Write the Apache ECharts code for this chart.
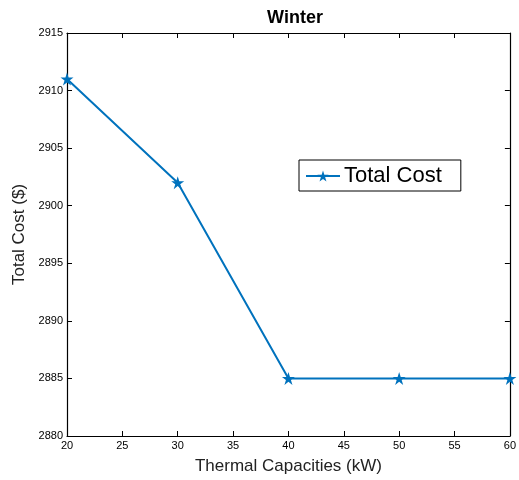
<!DOCTYPE html>
<html>
<head>
<meta charset="utf-8">
<script src="https://cdn.jsdelivr.net/npm/echarts@6/dist/echarts.min.js"></script>
<style>
  html, body { margin: 0; padding: 0; background: #fff; }
  #chart { width: 519px; height: 480px; }
</style>
</head>
<body>
<div id="chart"></div>
<script>
// Thermal capacity (kW) against total cost ($) for the winter case
const capacities = [20, 30, 40, 50, 60];
const totalCost = [2911, 2902, 2885, 2885, 2885];
const seriesName = 'Total Cost';
const titleText = 'Winter';
const xLabel = 'Thermal Capacities (kW)';
const yLabel = 'Total Cost ($)';

const FONT = 'Liberation Sans, Arial, sans-serif';
const BLUE = '#0072BD';
const STAR = 'path://M50,0 L61.8,36.2 L100,36.2 L69.1,58.6 L80.9,95.1 L50,72.6 L19.1,95.1 L30.9,58.6 L0,36.2 L38.2,36.2 Z';

const chart = echarts.init(document.getElementById('chart'));

const boxAxisCommon = {
  axisLine: { show: true, onZero: false, lineStyle: { color: '#000', width: 1.2 } },
  axisTick: { show: true, inside: true, length: 5, lineStyle: { color: '#000' } },
  splitLine: { show: false }
};

chart.setOption({
  backgroundColor: '#fff',
  animation: false,
  title: {
    text: titleText,
    left: 290,
    top: 4,
    textAlign: 'center',
    textStyle: { fontFamily: FONT, fontSize: 18, fontWeight: 'bold', color: '#000' }
  },
  legend: {
    left: 299,
    top: 160,
    orient: 'vertical',
    data: [seriesName],
    itemWidth: 34,
    itemHeight: 14,
    itemGap: 0,
    padding: [5, 19, 4, 6],
    borderColor: '#000',
    borderWidth: 1,
    backgroundColor: '#fff',
    textStyle: { fontFamily: FONT, fontSize: 22, color: '#000', padding: [0, 0, 0, -1] }
  },
  grid: { left: 67, right: 4, top: 33, bottom: 41, containLabel: false },
  xAxis: [
    Object.assign({}, boxAxisCommon, {
      type: 'value', min: 20, max: 60, interval: 5, position: 'bottom',
      axisLabel: { fontFamily: FONT, fontSize: 11, color: '#000', margin: 4 },
      name: xLabel, nameLocation: 'middle', nameGap: 22,
      nameTextStyle: { fontFamily: FONT, fontSize: 17, color: '#222' }
    }),
    Object.assign({}, boxAxisCommon, {
      type: 'value', min: 20, max: 60, interval: 5, position: 'top',
      axisLabel: { show: false }
    })
  ],
  yAxis: [
    Object.assign({}, boxAxisCommon, {
      type: 'value', min: 2880, max: 2915, interval: 5, position: 'left',
      axisLabel: { fontFamily: FONT, fontSize: 11, color: '#000', margin: 4,
                   formatter: v => String(v) },
      name: yLabel, nameLocation: 'middle', nameGap: 31,
      nameTextStyle: { fontFamily: FONT, fontSize: 17, color: '#222' }
    }),
    Object.assign({}, boxAxisCommon, {
      type: 'value', min: 2880, max: 2915, interval: 5, position: 'right',
      axisLabel: { show: false }
    })
  ],
  series: [{
    name: seriesName,
    type: 'line',
    xAxisIndex: 0,
    yAxisIndex: 0,
    data: capacities.map((c, i) => [c, totalCost[i]]),
    symbol: STAR,
    symbolSize: 13,
    showAllSymbol: true,
    clip: false,
    lineStyle: { color: BLUE, width: 2 },
    itemStyle: { color: BLUE, borderWidth: 0 }
  }]
});
</script>
</body>
</html>
